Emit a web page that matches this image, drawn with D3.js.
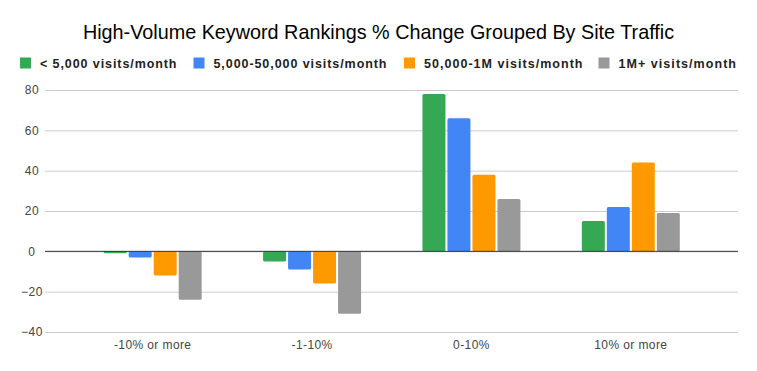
<!DOCTYPE html>
<html>
<head>
<meta charset="utf-8">
<script src="https://cdn.jsdelivr.net/npm/d3@7"></script>
<style>
  body { margin: 0; background: #fff; }
  svg { display: block; font-family: "Liberation Sans", Arial, sans-serif; }
</style>
</head>
<body>
<svg id="chart" width="757" height="371"></svg>
<script>
const categories = ['-10% or more', '-1-10%', '0-10%', '10% or more'];
const seriesNames = ['< 5,000 visits/month', '5,000-50,000 visits/month', '50,000-1M visits/month', '1M+ visits/month'];
const seriesColors = ['#34a853', '#4285f4', '#ff9900', '#999999'];
const lowTraffic = [-1, -5, 78, 15];
const midTraffic = [-3, -9, 66, 22];
const highTraffic = [-12, -16, 38, 44];
const topTraffic = [-24, -31, 26, 19];
const yTicks = [-40, -20, 0, 20, 40, 60, 80];

const seriesValues = [lowTraffic, midTraffic, highTraffic, topTraffic];
const rows = categories.map((c, i) => ({
    category: c,
    values: seriesNames.map((s, j) => ({ key: s, idx: j, value: seriesValues[j][i] }))
}));

const svg = d3.select('#chart');
const plotLeft = 45, plotRight = 738;

const y = d3.scaleLinear().domain([-40, 80]).range([332, 90]);

const x0 = d3.scaleBand()
    .domain(categories)
    .range([73, 710.5])
    .paddingInner(0.36)
    .paddingOuter(0.18);

const x1 = d3.scaleBand()
    .domain(seriesNames)
    .range([0, x0.bandwidth()])
    .padding(0.08);

// title
svg.append('text')
    .attr('x', 378.5)
    .attr('y', 38.5)
    .attr('text-anchor', 'middle')
    .style('font-size', '19.8px')
    .style('fill', '#000')
    .text('High-Volume Keyword Rankings % Change Grouped By Site Traffic');

// legend (x offsets and text widths taken from the reference layout)
const legendX = [20, 193.5, 404, 598.5];
const legendTextW = [136.5, 173, 158.5, 117.5];
const legend = svg.append('g').attr('class', 'legend');
seriesNames.forEach((name, i) => {
    const g = legend.append('g').attr('transform', `translate(${legendX[i]},57.5)`);
    g.append('rect')
        .attr('width', 11)
        .attr('height', 11)
        .attr('fill', seriesColors[i]);
    g.append('text')
        .attr('x', 20)
        .attr('y', 10.8)
        .attr('textLength', legendTextW[i])
        .attr('lengthAdjust', 'spacing')
        .style('font-size', '12.5px')
        .style('font-weight', 'bold')
        .style('fill', '#222')
        .text(name);
});

// gridlines + y labels
const yAxis = d3.axisLeft(y).tickValues(yTicks).tickSize(-(plotRight - plotLeft)).tickPadding(13);
const yAxisG = svg.append('g')
    .attr('transform', `translate(${plotLeft},0)`)
    .call(yAxis);
yAxisG.select('.domain').remove();
yAxisG.selectAll('.tick line')
    .attr('stroke', '#cccccc')
    .attr('stroke-width', 1);
yAxisG.selectAll('.tick text')
    .attr('text-anchor', 'middle')
    .style('font-size', '12px')
    .style('letter-spacing', '0.6px')
    .style('fill', '#444')
    .attr('font-family', '"Liberation Sans", Arial, sans-serif');

// bars
const groups = svg.append('g')
    .selectAll('g')
    .data(rows)
    .join('g')
    .attr('transform', d => `translate(${x0(d.category)},0)`);

groups.selectAll('rect')
    .data(d => d.values)
    .join('rect')
    .attr('x', d => x1(d.key))
    .attr('y', d => y(Math.max(0, d.value)))
    .attr('width', x1.bandwidth())
    .attr('height', d => Math.abs(y(d.value) - y(0)))
    .attr('rx', 1.5)
    .attr('fill', d => seriesColors[d.idx]);

// zero line
svg.append('line')
    .attr('x1', plotLeft)
    .attr('x2', plotRight)
    .attr('y1', y(0))
    .attr('y2', y(0))
    .attr('stroke', '#333')
    .attr('stroke-width', 1);

// x labels
const xAxis = d3.axisBottom(x0).tickSize(0).tickPadding(0);
const xAxisG = svg.append('g')
    .attr('transform', `translate(0,340)`)
    .call(xAxis);
xAxisG.select('.domain').remove();
xAxisG.selectAll('.tick text')
    .style('font-size', '12px')
    .style('letter-spacing', '0.4px')
    .style('fill', '#444')
    .attr('font-family', '"Liberation Sans", Arial, sans-serif');
</script>
</body>
</html>
